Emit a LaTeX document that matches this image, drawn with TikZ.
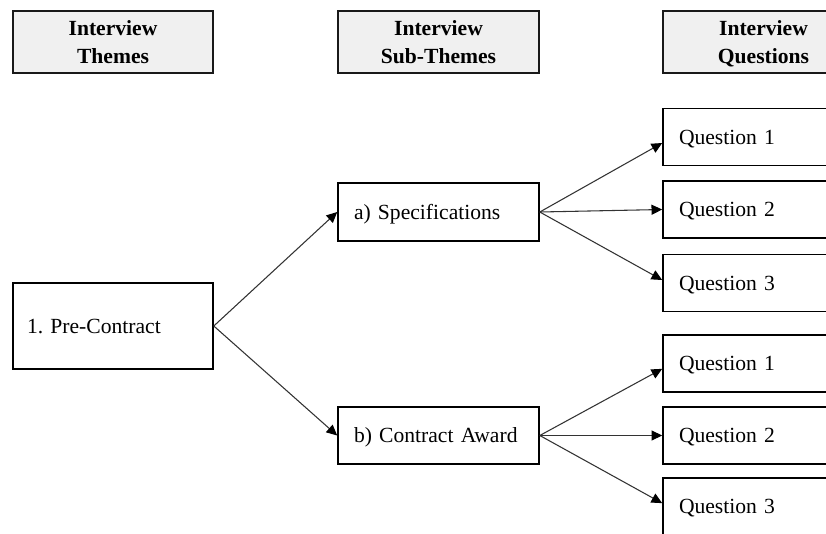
\documentclass[tikz,border=0pt]{standalone}
\usepackage{fontspec}
\setmainfont{Liberation Serif}
\usetikzlibrary{arrows.meta}
\definecolor{headfill}{HTML}{F0F0F0}
\definecolor{linkgray}{HTML}{333333}
\newcommand{\headstrut}{\rule{0pt}{18pt}}
\begin{document}
\frenchspacing
\begin{tikzpicture}[x=0.75pt,y=-0.75pt,
  every node/.style={font=\fontsize{16.2}{21}\selectfont},
  headbox/.style={draw=black!90,line width=1.4pt,fill=headfill,
    minimum width=150pt,minimum height=46.5pt,align=center,
    font=\fontsize{16.2}{21}\selectfont\bfseries,inner sep=0pt},
  itembox/.style={draw=black,line width=1.2pt,fill=white,
    minimum width=150.75pt,minimum height=42.75pt,
    text height=10.7pt,text depth=0pt,
    text width=126.75pt,align=left,inner xsep=12pt,inner ysep=0pt},
  link/.style={draw=linkgray,line width=0.8pt,
    -{Triangle[length=8pt,width=7.5pt,color=black]}}]
  \path[use as bounding box,clip] (0,0) rectangle (826,533);

  % column headings
  \node[headbox] (h1) at (113,42) {\headstrut Interview\\Themes\strut};
  \node[headbox,minimum width=150.75pt] (h2) at (438.5,42) {\headstrut Interview\\Sub-Themes\strut};
  \node[headbox,minimum width=150.75pt] (h3) at (763.5,42) {\headstrut Interview\\Questions\strut};

  % theme
  \node[itembox,minimum width=150pt,minimum height=64.5pt,
    text width=129pt,inner xsep=10.5pt] (pc) at (113,326) {1. Pre-Contract};

  % sub-themes
  \node[itembox,minimum height=43.5pt] (spec) at (438.5,212) {a) Specifications};
  \node[itembox] (award) at (438.5,435.5) {b) Contract Award};

  % questions
  \node[itembox] (qa1) at (763.5,137) {Question 1};
  \node[itembox] (qa2) at (763.5,209.5) {Question 2};
  \node[itembox] (qa3) at (763.5,283) {Question 3};
  \node[itembox] (qb1) at (763.5,363.5) {Question 1};
  \node[itembox] (qb2) at (763.5,435.5) {Question 2};
  \node[itembox] (qb3) at (763.5,506.5) {Question 3};

  % connectors
  \draw[link] (pc.east) -- (spec.west);
  \draw[link] (pc.east) -- (award.west);
  \draw[link] (spec.east) -- ([yshift=-4.5pt]qa1.west);
  \draw[link] (spec.east) -- (qa2.west);
  \draw[link] (spec.east) -- ([yshift=2.25pt]qa3.west);
  \draw[link] (award.east) -- ([yshift=-4pt]qb1.west);
  \draw[link] (award.east) -- (qb2.west);
  \draw[link] (award.east) -- ([yshift=2.5pt]qb3.west);
\end{tikzpicture}
\end{document}
